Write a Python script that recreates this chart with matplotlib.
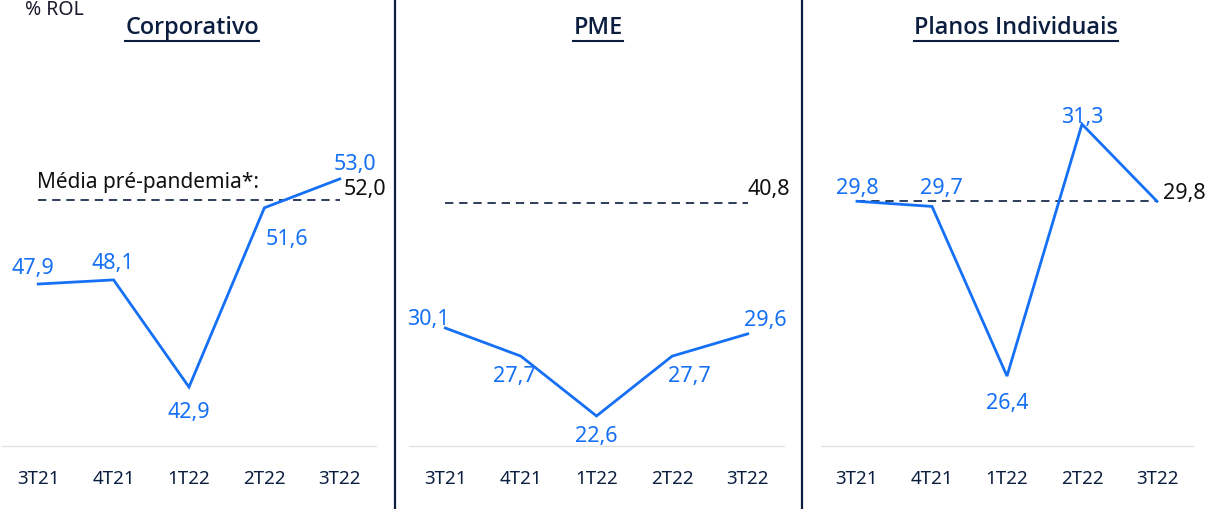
import matplotlib
matplotlib.use("Agg")
import matplotlib.pyplot as plt
from matplotlib.lines import Line2D

plt.rcParams['font.family'] = ['Noto Sans', 'DejaVu Sans']

periods = ['3T21', '4T21', '1T22', '2T22', '3T22']
titles = ['Corporativo', 'PME', 'Planos Individuais']
corporativo = [47.9, 48.1, 42.9, 51.6, 53.0]
pme = [30.1, 27.7, 22.6, 27.7, 29.6]
individuais = [29.8, 29.7, 26.4, 31.3, 29.8]
pre_pandemia = [52.0, 40.8, 29.8]
series = [corporativo, pme, individuais]

W, H = 1205, 509
BLUE = '#1570f5'
NAVY = '#0b1e3f'
DARK = '#111111'

fig = plt.figure(figsize=(W / 100, H / 100), dpi=100)

# axes pixel extents (left, right) and y-limits
ax_px = [(2, 376), (409, 784), (821, 1193)]
ylims = [(40.04, 56.83), (20.04, 49.54), (25.04, 31.77)]
bottom_px, top_px = 446, 100

# label offsets in pixels (style only)
offsets = [
    [(-5, 16), (-1, 16), (0, -25), (23, -32), (15, 14)],
    [(-17, 9), (-7, -20), (0, -21), (17, -20), (18, 13)],
    [(0, 13), (9, 18), (0, -27), (0, 7), None],
]
avg_offsets = [(25, 10), (21, 13), (27, 8)]

fmt = lambda v: f"{v:.1f}".replace('.', ',')

axes = []
for i, (vals, title) in enumerate(zip(series, titles)):
    l, r = ax_px[i]
    ax = fig.add_axes([l / W, (H - bottom_px) / H, (r - l) / W, (bottom_px - top_px) / H])
    axes.append(ax)
    x = list(range(len(periods)))
    ax.plot(x, vals, color=BLUE, lw=2.0, solid_joinstyle='miter', zorder=3)
    ax.plot([x[0], x[-1]], [pre_pandemia[i]] * 2, color=NAVY, lw=1.2,
            dashes=(5, 3.5), zorder=2)
    ax.set_xlim(-0.48, 4.48)
    ax.set_ylim(*ylims[i])
    for s in ['top', 'right', 'left']:
        ax.spines[s].set_visible(False)
    ax.spines['bottom'].set_color('#e3e3e3')
    ax.spines['bottom'].set_linewidth(1.0)
    ax.set_yticks([])
    ax.set_xticks(x)
    ax.set_xticklabels(periods, fontsize=13.5, color=NAVY)
    ax.tick_params(axis='x', length=0, pad=17)
    ax.patch.set_alpha(0)
    for j, v in enumerate(vals):
        off = offsets[i][j]
        if off is None:
            continue
        ax.annotate(fmt(v), (j, v), xytext=off, textcoords='offset pixels',
                    ha='center', va='center', fontsize=15.5, color=BLUE, zorder=4)
    ax.annotate(fmt(pre_pandemia[i]), (x[-1], pre_pandemia[i]), xytext=avg_offsets[i],
                textcoords='offset pixels', ha='center', va='center',
                fontsize=15.5, color=DARK, zorder=4)
    if i == 0:
        ax.annotate('Média pré-pandemia*:', (x[0], pre_pandemia[i]), xytext=(-1, 17),
                    textcoords='offset pixels', ha='left', va='center',
                    fontsize=15, color=DARK)

# titles with underline
title_cx = [192, 598, 1016]
title_texts = []
for cx, t in zip(title_cx, titles):
    tt = fig.text(cx / W, 1 - 28 / H, t, ha='center', va='center', fontsize=16.8,
                  color=NAVY, fontweight='semibold', family=['Open Sans', 'DejaVu Sans'])
    title_texts.append(tt)

fig.text(25 / W, 1 - 10 / H, '% ROL', ha='left', va='center', fontsize=14, color='#1a1a2e')

# divider lines
for xd in [395, 802]:
    fig.add_artist(Line2D([xd / W, xd / W], [0, 1], color=NAVY, lw=1.6,
                          transform=fig.transFigure))

fig.canvas.draw()
renderer = fig.canvas.get_renderer()
for tt in title_texts:
    bb = tt.get_window_extent(renderer)
    yline = (H - 41) / H
    fig.add_artist(Line2D([bb.x0 / W, bb.x1 / W], [yline, yline], color=NAVY, lw=1.5,
                          transform=fig.transFigure))

fig.savefig('out.png', dpi=100)
